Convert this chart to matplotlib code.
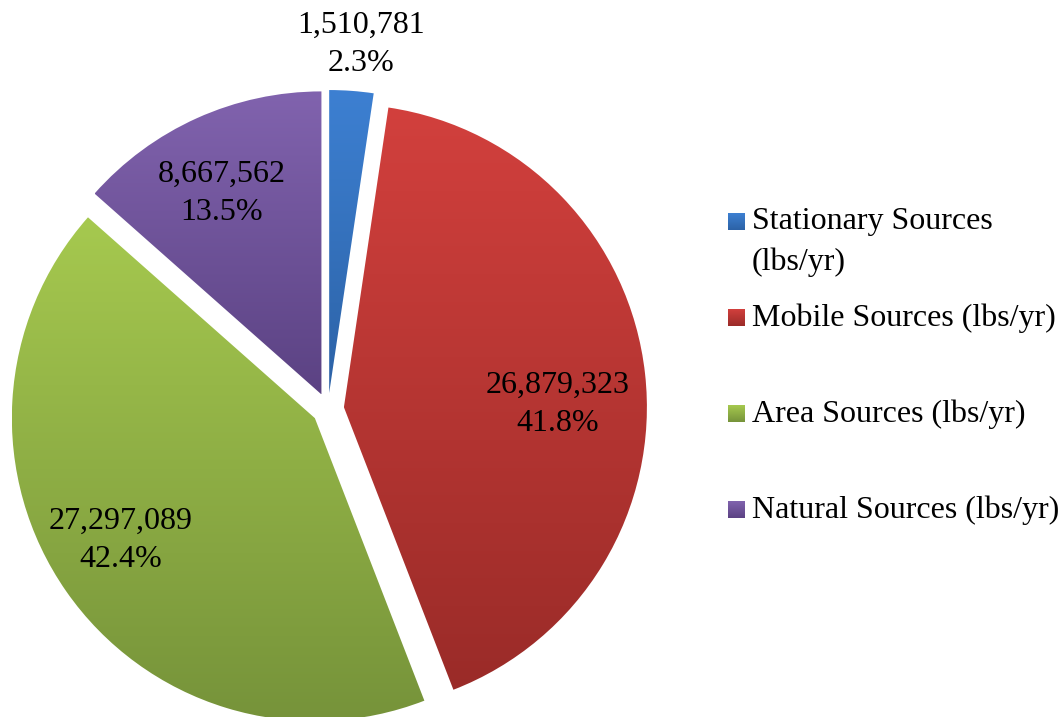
import numpy as np
import matplotlib
matplotlib.use("Agg")
import matplotlib.pyplot as plt
from matplotlib.patches import Rectangle
from matplotlib.colors import LinearSegmentedColormap

# data
categories = ["Stationary Sources (lbs/yr)", "Mobile Sources (lbs/yr)",
              "Area Sources (lbs/yr)", "Natural Sources (lbs/yr)"]
legend_labels = ["Stationary Sources\n(lbs/yr)", "Mobile Sources (lbs/yr)",
                 "Area Sources (lbs/yr)", "Natural Sources (lbs/yr)"]
values = [1510781, 26879323, 27297089, 8667562]
percents = ["2.3%", "41.8%", "42.4%", "13.5%"]

# gradient colours (top, bottom) per slice
top_colors = ["#3d80d2", "#d2403d", "#a6c94f", "#8163ae"]
bottom_colors = ["#2c62a6", "#9a2b28", "#76933a", "#5b4283"]

# layout in pixel units (y measured from top)
W, H = 1060, 717
center_px = (328, 409)
radius_px = 303
label_px = [(361, 44), (558, 404), (121, 540), (222, 193)]
legend_sq_y = [222, 318, 414, 510]
FS = 23

plt.rcParams['font.family'] = ['Liberation Serif', 'DejaVu Serif']

fig = plt.figure(figsize=(W / 100, H / 100), dpi=100)
ax = fig.add_axes([0, 0, 1, 1])

# explode is in data units here (radius is in pixels)
wedges, _ = ax.pie(values, center=(center_px[0], H - center_px[1]),
                   radius=radius_px, explode=[16] * 4,
                   startangle=90, counterclock=False,
                   wedgeprops=dict(linewidth=0))


def grad_fill(artist, extent, c_top, c_bot):
    cmap = LinearSegmentedColormap.from_list("g", [c_bot, c_top])
    grad = np.linspace(0, 1, 256).reshape(-1, 1)
    im = ax.imshow(grad, cmap=cmap, extent=extent, origin="lower",
                   aspect="auto", interpolation="bilinear", zorder=2)
    im.set_clip_path(artist)
    return im


for w, ct, cb in zip(wedges, top_colors, bottom_colors):
    ext = w.get_path().get_extents(w.get_patch_transform())
    w.set_facecolor("none")
    grad_fill(w, (ext.x0, ext.x1, ext.y0, ext.y1), ct, cb)

for (lx, ly), v, p in zip(label_px, values, percents):
    ax.text(lx, H - ly, f"{v:,}\n{p}", ha="center", va="center",
            fontsize=FS, linespacing=1.42, zorder=5)

# legend
for sy, lab, ct, cb in zip(legend_sq_y, legend_labels, top_colors, bottom_colors):
    sq = Rectangle((728, H - sy - 8), 17, 17, facecolor="none", linewidth=0)
    ax.add_patch(sq)
    grad_fill(sq, (728, 745, H - sy - 8, H - sy + 9), ct, cb)
    ax.text(752, H - sy, lab.split("\n")[0], ha="left", va="center",
            fontsize=FS)
    if "\n" in lab:
        ax.text(752, H - sy - 40, lab.split("\n")[1], ha="left",
                va="center", fontsize=FS)

ax.set_xlim(0, W)
ax.set_ylim(0, H)
ax.set_aspect("auto")
ax.axis("off")

fig.savefig("out.png", dpi=100)
